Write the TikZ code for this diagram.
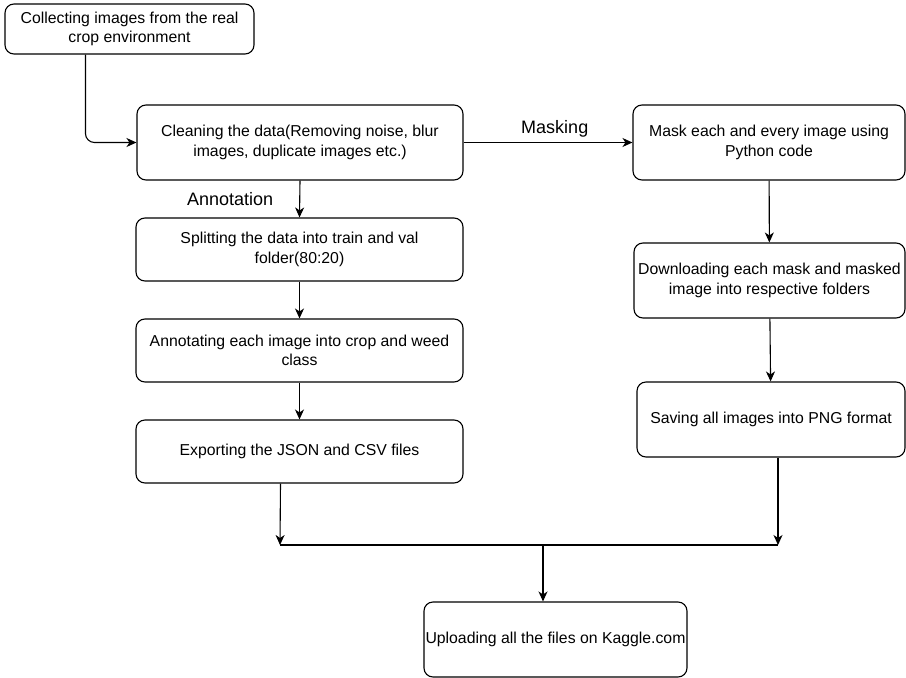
\documentclass[tikz,border=0pt]{standalone}
\usepackage{fontspec}
\setmainfont{Liberation Sans}
\usepackage{tikz}
\usetikzlibrary{arrows.meta, positioning}

\begin{document}
\begin{tikzpicture}[x = 1pt, y = -1pt, > = {Stealth[length = 10pt, width = 9pt, inset = 3pt]}, line width = 1.1pt,
    box/.style = {draw, rounded corners = 9pt, align = center, inner sep = 0pt, font = \fontsize{15.8}{19.5}\selectfont},
    lbl/.style = {font = \fontsize{18}{21}\selectfont, inner sep = 2pt}]
    \useasboundingbox (0, 0) rectangle (906, 678);
    \node[box, minimum width = 249pt, minimum height = 50pt] (collect) at (129.5, 29) {Collecting images from the real\\crop environment};
    \node[box, minimum width = 326pt, minimum height = 75pt] (clean) at (300, 142.5) {Cleaning the data(Removing noise, blur\\images, duplicate images etc.)};
    \node[box, minimum width = 327pt, minimum height = 63pt] (split) at (299.5, 249.5) {Splitting the data into train and val\\folder(80:20)};
    \node[box, minimum width = 327pt, minimum height = 63pt] (annotate) at (299.5, 350.5) {Annotating each image into crop and weed\\class};
    \node[box, minimum width = 327pt, minimum height = 63pt] (export) at (299.5, 451.5) {Exporting the JSON and CSV files};
    \node[box, minimum width = 272pt, minimum height = 75pt] (mask) at (769, 142.5) {Mask each and every image using\\Python code};
    \node[box, minimum width = 271pt, minimum height = 75pt] (download) at (769.5, 280.5) {Downloading each mask and masked\\image into respective folders};
    \node[box, minimum width = 268pt, minimum height = 75pt] (save) at (771, 419.5) {Saving all images into PNG format};
    \node[box, minimum width = 263pt, minimum height = 75pt] (upload) at (555.5, 639.5) {Uploading all the files on Kaggle.com};
    \coordinate (jl) at (280, 545);
    \coordinate (jm) at (543, 545);
    \coordinate (jr) at (778, 545);
    \draw[->, rounded corners = 9pt] ([xshift = 81pt]collect.south west) |- (clean.west);
    \draw[->] (clean.east) -- node[lbl, above = 3pt, pos = 0.54] (masking) {Masking} (mask.west);
    \draw[->] (clean.south) -- node[lbl, left = 24pt] (annotation) {Annotation} (split.north);
    \draw[->] (split) -- (annotate);
    \draw[->] (annotate) -- (export);
    \draw[->] (mask) -- (download);
    \draw[->] (download) -- (save);
    \draw[->] ([xshift = -19pt]export.south) -- (jl);
    \draw[->] ([xshift = 7pt]save.south) -- (jr);
    \draw (jl) -- (jr);
    \draw[->] (jm) -- (jm |- upload.north);
    %\draw[->] (export) -- (upload);
\end{tikzpicture}
\end{document}
